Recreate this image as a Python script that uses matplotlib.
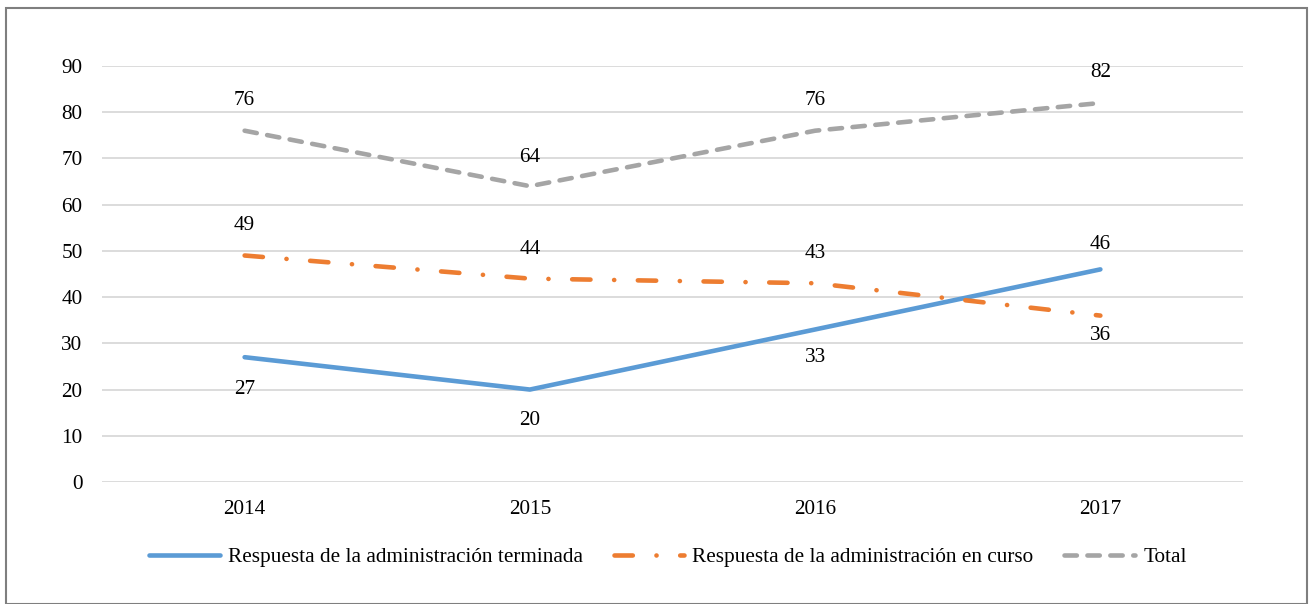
import matplotlib.pyplot as plt
from matplotlib.patches import Rectangle

plt.rcParams['font.family'] = ['Liberation Serif', 'DejaVu Serif']
plt.rcParams['lines.scale_dashes'] = False

years = ['2014', '2015', '2016', '2017']
terminada = [27, 20, 33, 46]
en_curso = [49, 44, 43, 36]
total = [76, 64, 76, 82]

names = ['Respuesta de la administración terminada',
         'Respuesta de la administración en curso',
         'Total']
colors = ['#5B9BD5', '#ED7D31', '#A5A5A5']

# label offsets in points: positive above, negative below
off_term = [-23, -22.5, -20, 18]
off_curso = [21.5, 21, 21.5, -14.5]
off_total = [21.5, 21, 21.5, 22]

fs = 15.3
fig = plt.figure(figsize=(13.13, 6.04), dpi=100)
ax = fig.add_axes([102/1313, 1-482/604, (1243-102)/1313, (482-66)/604])

x = list(range(len(years)))
lw = 3.3
l1, = ax.plot(x, terminada, color=colors[0], lw=lw, solid_capstyle='round')
l2, = ax.plot(x, en_curso, color=colors[1], lw=lw, dash_capstyle='round',
              dashes=(13.2, 17, 0.1, 17))
l3, = ax.plot(x, total, color=colors[2], lw=lw, dash_capstyle='round',
              dashes=(8.9, 7.6))

for vals, offs in [(terminada, off_term), (en_curso, off_curso), (total, off_total)]:
    for xi, v, o in zip(x, vals, offs):
        ax.annotate(str(v), (xi, v), xytext=(0, o), textcoords='offset points',
                    ha='center', va='center', fontsize=fs, color='#000000')

ax.set_xlim(-0.5, 3.5)
ax.set_ylim(0, 90)
ax.set_yticks(range(0, 91, 10))
ax.set_xticks(x)
ax.set_xticklabels(years)
ax.grid(axis='y', color='#D9D9D9', lw=1.3)
ax.set_axisbelow(True)
for s in ax.spines.values():
    s.set_visible(False)
ax.tick_params(length=0, labelsize=fs)
ax.tick_params(axis='y', pad=14)
ax.tick_params(axis='x', pad=13)

fig.legend([l1, l2, l3], names, loc='center', bbox_to_anchor=(668/1313, 1-557/604),
           ncol=3, frameon=False, fontsize=fs, handlelength=3.3,
           columnspacing=1.45, handletextpad=0.4)

fig.patches.append(Rectangle((6/1313, 0), 1-12/1313, 1-8/604, transform=fig.transFigure,
                             fill=False, edgecolor='#7F7F7F', lw=1.5))

fig.savefig('out.png', dpi=100)
